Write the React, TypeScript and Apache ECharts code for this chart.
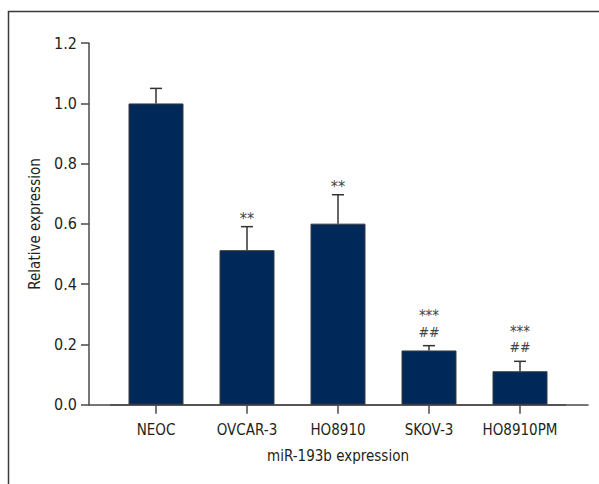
import React, { useEffect, useRef } from "react";
import * as echarts from "echarts";

const categories = ["NEOC", "OVCAR-3", "HO8910", "SKOV-3", "HO8910PM"];
const means = [1.0, 0.513, 0.601, 0.18, 0.111];
const errors = [0.05, 0.078, 0.096, 0.016, 0.033];
const starMarks = ["", "**", "**", "***", "***"];
const hashMarks = ["", "", "", "##", "##"];
const yMin = 0;
const yMax = 1.2;
const yInterval = 0.2;

const FONT = '"Liberation Sans Narrow", "DejaVu Sans Condensed", "Noto Sans", sans-serif';
const AXIS_COLOR = "#4a4a4a";
const BAR_COLOR = "#00295a";
const TEXT_COLOR = "#231f20";

export default function App() {
  const ref = useRef<HTMLDivElement>(null);
  useEffect(() => {
    if (!ref.current) return;
    const chart = echarts.init(ref.current, undefined, { renderer: "svg" });
    const errData = categories.map((_, i) => [i, means[i] + errors[i], means[i]]);
    chart.setOption({
      animation: false,
      backgroundColor: "#ffffff",
      textStyle: { fontFamily: FONT },
      graphic: [
        {
          type: "polyline",
          shape: { points: [[8.5, 484], [8.5, 11.5], [599, 11.5]] },
          style: { stroke: "#3a3a3a", lineWidth: 1.5, fill: "none" },
          silent: true,
        },
      ],
      grid: [
        { left: 110.5, width: 455, top: 43.2, height: 361.5 },
        { left: 89, width: 499, top: 43.2, height: 361.5 },
      ],
      xAxis: [
        {
          gridIndex: 0,
          type: "category",
          data: categories,
          axisLine: { show: true, lineStyle: { color: AXIS_COLOR, width: 1.5 } },
          axisTick: { show: true, alignWithLabel: true, length: 9, lineStyle: { color: AXIS_COLOR, width: 1.5 } },
          axisLabel: { fontSize: 15, color: TEXT_COLOR, margin: 18, fontFamily: FONT, interval: 0, hideOverlap: false },
          name: "miR-193b expression",
          nameLocation: "middle",
          nameGap: 44,
          nameTextStyle: { fontSize: 15, color: TEXT_COLOR, fontFamily: FONT },
          splitLine: { show: false },
        },
        {
          gridIndex: 1,
          type: "value",
          min: 0,
          max: 1,
          axisLine: { show: true, lineStyle: { color: AXIS_COLOR, width: 1.5 } },
          axisTick: { show: false },
          axisLabel: { show: false },
          splitLine: { show: false },
        },
      ],
      yAxis: [
        { gridIndex: 0, type: "value", min: yMin, max: yMax, show: false, splitLine: { show: false } },
        {
          gridIndex: 1,
          type: "value",
          min: yMin,
          max: yMax,
          interval: yInterval,
          axisLine: { show: true, lineStyle: { color: AXIS_COLOR, width: 1.5 } },
          axisTick: { show: true, length: 8, lineStyle: { color: AXIS_COLOR, width: 1.5 } },
          axisLabel: {
            fontSize: 16,
            color: TEXT_COLOR,
            margin: 12,
            fontFamily: FONT,
            formatter: (v: number) => v.toFixed(1),
          },
          splitLine: { show: false },
          name: "Relative expression",
          nameLocation: "middle",
          nameGap: 47,
          nameRotate: 90,
          nameTextStyle: { fontSize: 15, color: TEXT_COLOR, fontFamily: FONT },
        },
      ],
      series: [
        {
          type: "bar",
          xAxisIndex: 0,
          yAxisIndex: 0,
          data: means,
          barWidth: 55,
          itemStyle: { color: BAR_COLOR, borderColor: "#3a3a3a", borderWidth: 1 },
        },
        {
          type: "custom",
          xAxisIndex: 0,
          yAxisIndex: 0,
          data: errData,
          z: 3,
          renderItem: (params: any, api: any) => {
            const idx = api.value(0);
            const top = api.coord([idx, api.value(1)]);
            const base = api.coord([idx, api.value(2)]);
            const style = { stroke: "#333", lineWidth: 1.5 };
            const children: any[] = [
              { type: "line", shape: { x1: base[0], y1: base[1], x2: top[0], y2: top[1] }, style },
              { type: "line", shape: { x1: top[0] - 6, y1: top[1], x2: top[0] + 6, y2: top[1] }, style },
            ];
            const stars = starMarks[params.dataIndex];
            const hashes = hashMarks[params.dataIndex];
            if (hashes) {
              children.push({
                type: "text",
                x: top[0],
                y: top[1] - 14,
                style: { text: hashes, fill: "#444", font: `14px ${FONT}`, align: "center", verticalAlign: "middle" },
              });
            }
            if (stars) {
              children.push({
                type: "text",
                x: top[0],
                y: top[1] - (hashes ? 29.5 : 8),
                style: { text: stars, fill: "#444", font: `${hashes ? 15 : 16}px ${FONT}`, align: "center", verticalAlign: "middle" },
              });
            }
            return { type: "group", children };
          },
        },
      ],
    });
    return () => chart.dispose();
  }, []);
  return (
    <div
      ref={ref}
      style={{ position: "fixed", left: 0, top: 0, width: 599, height: 484 }}
    />
  );
}
